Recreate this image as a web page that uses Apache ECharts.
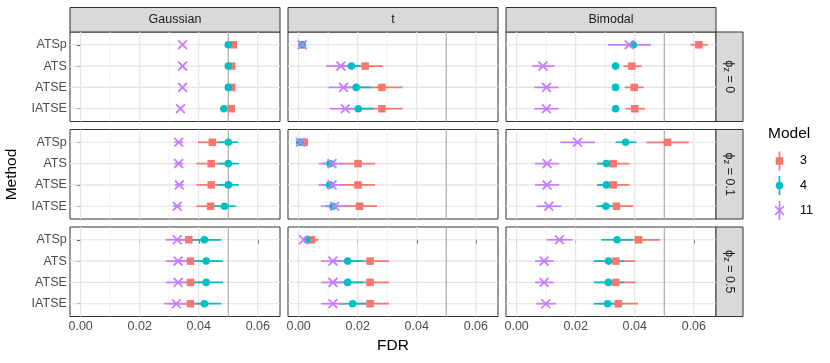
<!DOCTYPE html>
<html>
<head>
<meta charset="utf-8">
<script src="https://cdn.jsdelivr.net/npm/echarts@6/dist/echarts.min.js"></script>
<style>
  html, body { margin: 0; padding: 0; background: #fff; }
  #chart { width: 830px; height: 363px; }
</style>
</head>
<body>
<div id="chart"></div>
<script>
const methods = ['ATSp', 'ATS', 'ATSE', 'IATSE'];
const dists = ['Gaussian', 't', 'Bimodal'];
const phis = ['0', '0.1', '0.5'];
const models = ['3', '4', '11'];
const xTicks = [0, 0.02, 0.04, 0.06];
const xMinor = [0.01, 0.03, 0.05];
const refLine = 0.05;

// one row per panel: phi 0 (Gaussian, t, Bimodal), phi 0.1 (...), phi 0.5 (...)
// values per row follow methods order
const est3 = [
  [0.0517, 0.0511, 0.0511, 0.0510],
  [0.0012, 0.0225, 0.0282, 0.0282],
  [0.0617, 0.0390, 0.0398, 0.0400],
  [0.0446, 0.0442, 0.0442, 0.0440],
  [0.0019, 0.0201, 0.0201, 0.0206],
  [0.0511, 0.0327, 0.0327, 0.0338],
  [0.0366, 0.0372, 0.0372, 0.0372],
  [0.0043, 0.0242, 0.0242, 0.0242],
  [0.0413, 0.0336, 0.0336, 0.0344]
];
const lo3 = [
  [0.0512, 0.0506, 0.0506, 0.0505],
  [0.0009, 0.0165, 0.0212, 0.0212],
  [0.0589, 0.0361, 0.0366, 0.0369],
  [0.0397, 0.0392, 0.0392, 0.0392],
  [0.0013, 0.0143, 0.0143, 0.0146],
  [0.0440, 0.0272, 0.0272, 0.0281],
  [0.0326, 0.0332, 0.0332, 0.0332],
  [0.0018, 0.0178, 0.0178, 0.0178],
  [0.0340, 0.0269, 0.0269, 0.0277]
];
const hi3 = [
  [0.0522, 0.0516, 0.0516, 0.0515],
  [0.0015, 0.0285, 0.0352, 0.0352],
  [0.0648, 0.0423, 0.0430, 0.0434],
  [0.0495, 0.0492, 0.0492, 0.0488],
  [0.0025, 0.0259, 0.0259, 0.0266],
  [0.0583, 0.0382, 0.0382, 0.0395],
  [0.0406, 0.0412, 0.0412, 0.0412],
  [0.0068, 0.0306, 0.0306, 0.0306],
  [0.0486, 0.0403, 0.0403, 0.0411]
];

const est4 = [
  [0.0500, 0.0500, 0.0500, 0.0485],
  [0.0012, 0.0179, 0.0195, 0.0202],
  [0.0395, 0.0335, 0.0335, 0.0335],
  [0.0500, 0.0500, 0.0500, 0.0487],
  [0.0004, 0.0106, 0.0105, 0.0116],
  [0.0369, 0.0304, 0.0304, 0.0302],
  [0.0419, 0.0425, 0.0425, 0.0419],
  [0.0028, 0.0166, 0.0166, 0.0183],
  [0.0340, 0.0311, 0.0311, 0.0308]
];
const lo4 = [
  [0.0495, 0.0495, 0.0495, 0.0480],
  [0.0009, 0.0149, 0.0144, 0.0150],
  [0.0387, 0.0327, 0.0327, 0.0327],
  [0.0466, 0.0464, 0.0464, 0.0449],
  [0.0001, 0.0081, 0.0080, 0.0091],
  [0.0335, 0.0273, 0.0273, 0.0270],
  [0.0362, 0.0368, 0.0368, 0.0362],
  [0.0021, 0.0114, 0.0114, 0.0137],
  [0.0287, 0.0261, 0.0261, 0.0261]
];
const hi4 = [
  [0.0505, 0.0505, 0.0505, 0.0490],
  [0.0015, 0.0209, 0.0246, 0.0254],
  [0.0403, 0.0343, 0.0343, 0.0343],
  [0.0534, 0.0536, 0.0536, 0.0525],
  [0.0007, 0.0131, 0.0130, 0.0141],
  [0.0406, 0.0335, 0.0335, 0.0334],
  [0.0476, 0.0482, 0.0482, 0.0476],
  [0.0035, 0.0218, 0.0218, 0.0229],
  [0.0393, 0.0363, 0.0363, 0.0361]
];

const est11 = [
  [0.0345, 0.0345, 0.0345, 0.0338],
  [0.0012, 0.0143, 0.0152, 0.0158],
  [0.0381, 0.0089, 0.0101, 0.0101],
  [0.0332, 0.0332, 0.0334, 0.0327],
  [0.0006, 0.0113, 0.0113, 0.0122],
  [0.0206, 0.0103, 0.0103, 0.0109],
  [0.0327, 0.0330, 0.0330, 0.0324],
  [0.0017, 0.0116, 0.0116, 0.0116],
  [0.0145, 0.0093, 0.0093, 0.0099]
];
const lo11 = [
  [0.0340, 0.0340, 0.0340, 0.0333],
  [0.0010, 0.0093, 0.0101, 0.0105],
  [0.0309, 0.0053, 0.0060, 0.0060],
  [0.0317, 0.0317, 0.0319, 0.0312],
  [0.0004, 0.0068, 0.0068, 0.0076],
  [0.0148, 0.0062, 0.0062, 0.0068],
  [0.0287, 0.0289, 0.0289, 0.0283],
  [0.0012, 0.0076, 0.0076, 0.0076],
  [0.0102, 0.0062, 0.0062, 0.0066]
];
const hi11 = [
  [0.0350, 0.0350, 0.0350, 0.0343],
  [0.0014, 0.0193, 0.0203, 0.0211],
  [0.0455, 0.0128, 0.0142, 0.0142],
  [0.0347, 0.0347, 0.0349, 0.0342],
  [0.0008, 0.0156, 0.0156, 0.0169],
  [0.0265, 0.0144, 0.0144, 0.0151],
  [0.0367, 0.0371, 0.0371, 0.0365],
  [0.0022, 0.0156, 0.0156, 0.0156],
  [0.0189, 0.0125, 0.0125, 0.0133]
];

const estAll = [est3, est4, est11];
const loAll = [lo3, lo4, lo11];
const hiAll = [hi3, hi4, hi11];

const colors = ['#F8766D', '#00BFC4', '#C77CFF'];
const font = 'Liberation Sans, Arial, sans-serif';
const colLeft = [70, 288, 506];
const rowTop = [32, 129.5, 227];
const panelW = 210, panelH = 89.5;
const xMin = -0.0036, xMax = 0.0675, yMin = -0.6, yMax = 3.6;

const grid = [], xAxis = [], yAxis = [], series = [], graphic = [];

function drawPoint(m, x, y, color) {
  if (m === 0) {
    return { type: 'rect', shape: { x: x - 3.75, y: y - 3.75, width: 7.5, height: 7.5 }, style: { fill: color } };
  }
  if (m === 1) {
    return { type: 'circle', shape: { cx: x, cy: y, r: 3.8 }, style: { fill: color } };
  }
  const h = 4.4;
  return {
    type: 'group',
    children: [
      { type: 'line', shape: { x1: x - h, y1: y - h, x2: x + h, y2: y + h }, style: { stroke: color, lineWidth: 1.8 } },
      { type: 'line', shape: { x1: x - h, y1: y + h, x2: x + h, y2: y - h }, style: { stroke: color, lineWidth: 1.8 } }
    ]
  };
}

// grid lines as segments [x1, y1, x2, y2, kind] (kind 0 minor, 1 major, 2 reference)
const gridSegs = [];
xMinor.forEach(v => gridSegs.push([v, yMin, v, yMax, 0]));
xTicks.forEach(v => gridSegs.push([v, yMin, v, yMax, 1]));
methods.forEach((m, i) => gridSegs.push([xMin, i, xMax, i, 1]));
gridSegs.push([refLine, yMin, refLine, yMax, 2]);
const segStroke = ['#ececec', '#e2e2e2', '#a8a8a8'];
const segWidth = [0.7, 1.1, 1.1];

for (let r = 0; r < 3; r++) {
  for (let c = 0; c < 3; c++) {
    const k = r * 3 + c;
    grid.push({
      left: colLeft[c], top: rowTop[r], width: panelW, height: panelH,
      show: true, backgroundColor: '#fff', borderColor: '#333', borderWidth: 1
    });
    xAxis.push({
      gridIndex: k, type: 'value', min: xMin, max: xMax,
      splitLine: { show: false }, axisLine: { show: false },
      axisTick: { show: r === 2, length: 3.7, lineStyle: { color: '#333' }, customValues: xTicks },
      axisLabel: {
        show: r === 2, customValues: xTicks, margin: 3.5,
        color: '#4d4d4d', fontSize: 12.5, fontFamily: font,
        formatter: v => v.toFixed(2)
      }
    });
    yAxis.push({
      gridIndex: k, type: 'value', min: yMin, max: yMax, inverse: true,
      splitLine: { show: false }, axisLine: { show: false },
      axisTick: { show: c === 0, length: 3.7, lineStyle: { color: '#333' }, customValues: [0, 1, 2, 3] },
      axisLabel: {
        show: c === 0, customValues: [0, 1, 2, 3], margin: 3.2,
        color: '#4d4d4d', fontSize: 12.5, fontFamily: font,
        formatter: v => methods[Math.round(v)]
      }
    });

    series.push({
      type: 'custom', xAxisIndex: k, yAxisIndex: k, z: 2, silent: true,
      encode: { x: [0, 2], y: [1, 3] },
      data: gridSegs,
      renderItem(params, api) {
        const p1 = api.coord([api.value(0), api.value(1)]);
        const p2 = api.coord([api.value(2), api.value(3)]);
        const kind = api.value(4);
        return {
          type: 'line',
          shape: { x1: p1[0], y1: p1[1], x2: p2[0], y2: p2[1] },
          style: { stroke: segStroke[kind], lineWidth: segWidth[kind] }
        };
      }
    });

    const rows = [];
    for (let m = 0; m < 3; m++) {
      for (let i = 0; i < 4; i++) {
        rows.push([estAll[m][k][i], i, loAll[m][k][i], hiAll[m][k][i], m]);
      }
    }
    // error bars
    series.push({
      type: 'custom', xAxisIndex: k, yAxisIndex: k, z: 3, silent: true,
      encode: { x: 0, y: 1 }, data: rows,
      renderItem(params, api) {
        const y = api.value(1), m = api.value(4);
        const p1 = api.coord([api.value(2), y]);
        const p2 = api.coord([api.value(3), y]);
        return { type: 'line', shape: { x1: p1[0], y1: p1[1], x2: p2[0], y2: p2[1] }, style: { stroke: colors[m], lineWidth: 1.7 } };
      }
    });
    // points
    series.push({
      type: 'custom', xAxisIndex: k, yAxisIndex: k, z: 4, silent: true,
      encode: { x: 0, y: 1 }, data: rows,
      renderItem(params, api) {
        const m = api.value(4);
        const p = api.coord([api.value(0), api.value(1)]);
        return drawPoint(m, p[0], p[1], colors[m]);
      }
    });
  }
}

// top strips
dists.forEach((d, c) => {
  graphic.push({ type: 'rect', shape: { x: colLeft[c], y: 7.5, width: panelW, height: 24.5 }, style: { fill: '#d9d9d9', stroke: '#333', lineWidth: 1 } });
  graphic.push({ type: 'text', x: colLeft[c] + panelW / 2, y: 20, style: { text: d, fill: '#1a1a1a', fontSize: 12.5, fontFamily: font, align: 'center', verticalAlign: 'middle' } });
});
// right strips
phis.forEach((p, r) => {
  graphic.push({ type: 'rect', shape: { x: 716, y: rowTop[r], width: 27, height: panelH }, style: { fill: '#d9d9d9', stroke: '#333', lineWidth: 1 } });
  graphic.push({
    type: 'text', x: 729.5, y: rowTop[r] + panelH / 2, rotation: -Math.PI / 2,
    style: {
      text: '{a|\u03d5}{b|z}{a| = ' + p + '}', align: 'center', verticalAlign: 'middle',
      fill: '#1a1a1a', fontFamily: font,
      rich: {
        a: { fontSize: 12.5, fill: '#1a1a1a', fontFamily: font, lineHeight: 15 },
        b: { fontSize: 9.5, fill: '#1a1a1a', fontFamily: font, lineHeight: 15, verticalAlign: 'bottom' }
      }
    }
  });
});
// axis titles
graphic.push({ type: 'text', x: 393, y: 346, style: { text: 'FDR', fontSize: 15.5, fontFamily: font, fill: '#000', align: 'center', verticalAlign: 'middle' } });
graphic.push({ type: 'text', x: 12, y: 174.5, rotation: Math.PI / 2, style: { text: 'Method', fontSize: 15.5, fontFamily: font, fill: '#000', align: 'center', verticalAlign: 'middle' } });

// legend
graphic.push({ type: 'text', x: 768, y: 134, style: { text: 'Model', fontSize: 15.5, fontFamily: font, fill: '#000', align: 'left', verticalAlign: 'middle' } });
const keyY = [161, 185.5, 210.5];
models.forEach((name, m) => {
  const x = 779.5, y = keyY[m];
  graphic.push({ type: 'line', shape: { x1: x, y1: y - 9.5, x2: x, y2: y + 9.5 }, style: { stroke: colors[m], lineWidth: 1.7 } });
  graphic.push(drawPoint(m, x, y, colors[m]));
  graphic.push({ type: 'text', x: 800, y: y, style: { text: name, fontSize: 12.5, fontFamily: font, fill: '#000', align: 'left', verticalAlign: 'middle' } });
});

const chart = echarts.init(document.getElementById('chart'), null, { renderer: 'canvas' });
chart.setOption({
  animation: false,
  backgroundColor: '#fff',
  grid, xAxis, yAxis, series, graphic
});
</script>
</body>
</html>
